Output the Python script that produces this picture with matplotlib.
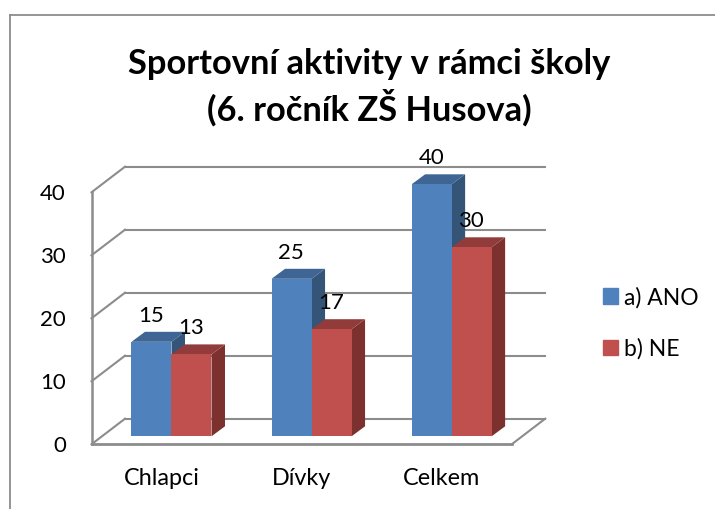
import matplotlib
matplotlib.use('Agg')
import matplotlib.pyplot as plt
from matplotlib.patches import Rectangle

categories = ['Chlapci', 'Dívky', 'Celkem']
ano = [15, 25, 40]
ne = [13, 17, 30]
ticks = [0, 10, 20, 30, 40]
series_names = ['a) ANO', 'b) NE']

W, H = 715, 509
plt.rcParams['font.family'] = ['Lato', 'DejaVu Sans']

fig = plt.figure(figsize=(W / 100, H / 100), dpi=100)
ax = fig.add_axes([91.5 / W, 1 - 444.3 / H, 420.2 / W, 252 / H])
ax.set_xlim(0, 3)
ax.set_ylim(0, 40)
ax.patch.set_visible(False)
for s in ax.spines.values():
    s.set_visible(False)

# unit sizes, pixel per data unit
px = 140.07
py = 6.3
depth_x = 33.5 / px
depth_y = 25.6 / py
grey = '#8c8c8c'

# floor, wall and gridlines
for t in ticks:
    ax.plot([depth_x, 3 + depth_x], [t + depth_y, t + depth_y], color=grey, lw=1.5,
            clip_on=False, zorder=1)
    ax.plot([0, depth_x], [t, t + depth_y], color=grey, lw=1.5, clip_on=False, zorder=1)
ax.plot([0, 0], [0, 40], color=grey, lw=1.8, clip_on=False, zorder=1)
ax.plot([0, 3], [0, 0], color=grey, lw=2, clip_on=False, zorder=1)
ax.plot([3, 3 + depth_x], [0, depth_y], color=grey, lw=1.5, clip_on=False, zorder=1)


def bar3d(x0, val, front, top, side):
    w = 40 / px
    base = 8 / py
    dx = 13.5 / px
    dy = 10 / py
    h = val + base
    ax.fill([x0 + w, x0 + w + dx, x0 + w + dx, x0 + w],
            [base, base + dy, h + dy, h], color=side, lw=0, clip_on=False, zorder=3)
    ax.fill([x0, x0 + dx, x0 + w + dx, x0 + w],
            [h, h + dy, h + dy, h], color=top, lw=0, clip_on=False, zorder=3)
    ax.add_patch(Rectangle((x0, base), w, val, facecolor=front, edgecolor='none',
                           clip_on=False, zorder=3))


blue = ('#4f81bd', '#3f6594', '#345478')
red = ('#c0504d', '#913c3a', '#7c312f')
bar_w = 40 / px
for i, (a, n) in enumerate(zip(ano, ne)):
    x_left = i + 40 / px
    bar3d(x_left, a, *blue)
    bar3d(x_left + bar_w, n, *red)
    ax.text(x_left + 0.14, a + 8 / py + 28 / py, str(a), ha='center', va='center_baseline',
            fontsize=16, zorder=5, clip_on=False)
    ax.text(x_left + bar_w + 0.14, n + 8 / py + 28 / py, str(n), ha='center', va='center_baseline',
            fontsize=16, zorder=5, clip_on=False)

ax.set_yticks(ticks)
ax.set_xticks([i + 0.5 for i in range(3)])
ax.set_xticklabels(categories)
ax.tick_params(axis='both', length=0, labelcolor='black')
ax.tick_params(axis='x', pad=17, labelsize=16.8)
ax.tick_params(axis='y', pad=18.5, labelsize=16)

# outer frame of the chart area
frame = dict(color='#8c8c8c', lw=1.3, clip_on=False)
fig.add_artist(plt.Line2D([9.7 / W, 9.7 / W], [0, 1 - 15.4 / H], **frame))
fig.add_artist(plt.Line2D([9.7 / W, 1], [1 - 15.4 / H, 1 - 15.4 / H], **frame))

fig.text(369 / W, 1 - 87 / H, 'Sportovní aktivity v rámci školy\n(6. ročník ZŠ Husova)',
         ha='center', va='center', fontsize=24.8, fontweight='bold', linespacing=1.3)

handles = [Rectangle((0, 0), 1, 1, color=blue[0]), Rectangle((0, 0), 1, 1, color=red[0])]
fig.legend(handles, series_names, loc='center left', bbox_to_anchor=(603 / W, 1 - 323 / H),
           frameon=False, fontsize=16.5, handlelength=0.66, handleheight=0.66,
           handletextpad=0.25, labelspacing=1.3, borderpad=0, borderaxespad=0)

fig.savefig('out.png', dpi=100)
